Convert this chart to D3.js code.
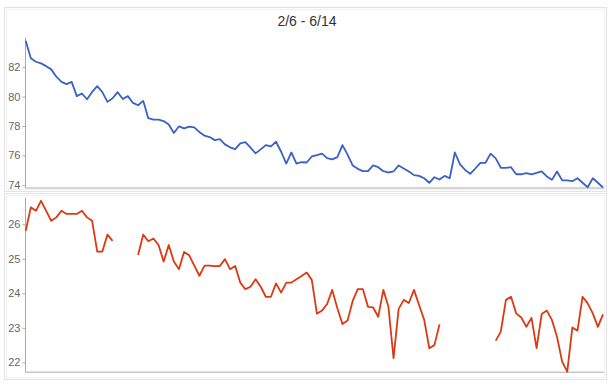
<!DOCTYPE html>
<html>
<head>
<meta charset="utf-8">
<script src="https://cdn.jsdelivr.net/npm/d3@7/dist/d3.min.js"></script>
<style>
  html, body { margin: 0; padding: 0; background: #fff; }
  svg { display: block; font-family: "Liberation Sans", Arial, sans-serif; }
</style>
</head>
<body>
<svg id="chart" width="614" height="389"></svg>
<script>
const title = "2/6 - 6/14";

const topSeries = [
  83.80, 82.60, 82.37, 82.26, 82.07, 81.85, 81.35, 81.00, 80.85, 81.00,
  80.03, 80.21, 79.82, 80.32, 80.71, 80.30, 79.64, 79.89, 80.30, 79.84,
  80.03, 79.57, 79.41, 79.71, 78.53, 78.44, 78.44, 78.34, 78.10, 77.52,
  77.98, 77.84, 77.96, 77.91, 77.59, 77.34, 77.25, 77.04, 77.11, 76.75,
  76.55, 76.43, 76.82, 76.91, 76.53, 76.14, 76.41, 76.70, 76.61, 76.93,
  76.25, 75.45, 76.20, 75.45, 75.54, 75.52, 75.93, 76.02, 76.12, 75.82,
  75.73, 75.88, 76.70, 76.05, 75.32, 75.09, 74.93, 74.93, 75.32, 75.20,
  74.93, 74.84, 74.91, 75.32, 75.11, 74.91, 74.66, 74.61, 74.45, 74.14,
  74.52, 74.36, 74.61, 74.45, 76.20, 75.41, 75.02, 74.75, 75.11, 75.50,
  75.50, 76.12, 75.80, 75.16, 75.16, 75.20, 74.72, 74.72, 74.79, 74.72,
  74.82, 74.91, 74.57, 74.34, 74.91, 74.31, 74.31, 74.25, 74.45, 74.14,
  73.84, 74.45, 74.14, 73.82
];

const bottomSeries = [
  25.81, 26.49, 26.39, 26.68, 26.39, 26.10, 26.20, 26.39, 26.30, 26.30,
  26.30, 26.39, 26.20, 26.10, 25.21, 25.21, 25.70, 25.52, null, null,
  null, null, 25.11, 25.70, 25.51, 25.59, 25.40, 24.92, 25.40, 24.92,
  24.70, 25.20, 25.10, 24.80, 24.51, 24.80, 24.80, 24.79, 24.79, 24.99,
  24.70, 24.79, 24.31, 24.12, 24.19, 24.41, 24.19, 23.90, 23.90, 24.29,
  24.02, 24.31, 24.31, 24.41, 24.50, 24.60, 24.39, 23.41, 23.50, 23.69,
  24.10, 23.57, 23.11, 23.21, 23.78, 24.12, 24.12, 23.61, 23.59, 23.32,
  24.10, 23.61, 22.12, 23.55, 23.81, 23.72, 24.10, 23.66, 23.23, 22.41,
  22.50, 23.10, null, null, null, null, null, null, null, null,
  null, null, 22.63, 22.89, 23.81, 23.90, 23.42, 23.30, 23.03, 23.29,
  22.41, 23.40, 23.50, 23.23, 22.74, 22.02, 21.73, 23.01, 22.92, 23.90,
  23.71, 23.42, 23.03, 23.39
];

const topTicks = [74, 76, 78, 80, 82];
const bottomTicks = [22, 23, 24, 25, 26];

const svg = d3.select("#chart");

// panel frames
function frame(x, y, w, h) {
  svg.append("rect").attr("x", x + 0.5).attr("y", y + 0.5).attr("width", w).attr("height", h)
    .attr("fill", "#fff").attr("stroke", "#e2e2e8").attr("stroke-width", 1);
  svg.append("rect").attr("x", x + 2.5).attr("y", y + 2.5).attr("width", w - 4).attr("height", h - 4)
    .attr("fill", "none").attr("stroke", "#f0f0f3").attr("stroke-width", 1);
}
frame(4, 7, 602, 184);
frame(4, 193, 602, 186);

svg.append("text")
  .attr("x", 307).attr("y", 26)
  .attr("text-anchor", "middle")
  .attr("font-size", 14)
  .attr("fill", "#333")
  .text(title);

const x = d3.scaleLinear().domain([0, topSeries.length - 1]).range([25.7, 603]);

function panel(series, ticks, yBottom, yTop, color) {
  const y = d3.scaleLinear().domain(d3.extent(series.filter(v => v != null))).range([yBottom, yTop]);
  const axisX = 25.5;
  const yAx = svg.append("g").attr("transform", `translate(${axisX},0)`)
    .call(d3.axisLeft(y).tickValues(ticks).tickSize(3).tickSizeOuter(0).tickPadding(2).tickFormat(d3.format("d")));
  yAx.select(".domain").attr("stroke", "#aaa").attr("d", `M0,${yTop - 3}V${yBottom + 0.5}`);
  yAx.selectAll(".tick line").attr("stroke", "#aaa");
  yAx.selectAll(".tick text").attr("fill", "#666").attr("font-size", 11)
    .attr("font-family", "'Liberation Sans', Arial, sans-serif");

  const xAx = svg.append("g").attr("transform", `translate(0,${yBottom + 0.5})`)
    .call(d3.axisBottom(x).tickValues([]).tickSizeOuter(0));
  xAx.select(".domain").attr("stroke", "#aaa").attr("d", `M${axisX},0H604`);

  const line = d3.line()
    .defined(d => d != null)
    .x((d, i) => x(i))
    .y(d => y(d));
  svg.append("path")
    .datum(series)
    .attr("fill", "none")
    .attr("stroke", color)
    .attr("stroke-width", 1.8)
    .attr("stroke-linejoin", "round")
    .attr("d", line);
}

panel(topSeries, topTicks, 187.5, 40.7, "#3a62c4");
panel(bottomSeries, bottomTicks, 371.7, 200.8, "#dc3912");
</script>
</body>
</html>
